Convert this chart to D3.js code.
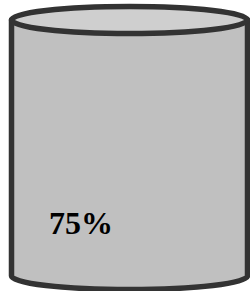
<!DOCTYPE html>
<html><head><meta charset="utf-8">
<script src="https://cdn.jsdelivr.net/npm/d3@7"></script>
<style>html,body{margin:0;padding:0;background:#fff;overflow:hidden}</style>
</head><body>
<svg id="c" width="250" height="291"></svg>
<script>
const labels = ["75%"];
const values = [75];

const svg = d3.select("#c");
const cx = 129.5, rx = 118, ry = 13.5;
const topY = 20, botY = 276;

svg.append("path")
  .attr("d", `M${cx-rx},${topY} L${cx-rx},${botY} A${rx},${ry} 0 0 0 ${cx+rx},${botY} L${cx+rx},${topY} Z`)
  .attr("fill", "#c0c0c0")
  .attr("stroke", "#333")
  .attr("stroke-width", 5.5)
  .attr("stroke-linejoin", "round");

svg.append("ellipse")
  .attr("cx", cx).attr("cy", topY)
  .attr("rx", rx).attr("ry", ry)
  .attr("fill", "#cfcfcf")
  .attr("stroke", "#333")
  .attr("stroke-width", 5.5);

svg.selectAll("text.v").data(values).enter().append("text")
  .attr("class", "v")
  .attr("x", 49)
  .attr("y", 234)
  .attr("font-family", "Liberation Serif")
  .attr("font-weight", "bold")
  .attr("font-size", 32)
  .attr("fill", "#000")
  .text((d, i) => labels[i]);
</script>
</body></html>
